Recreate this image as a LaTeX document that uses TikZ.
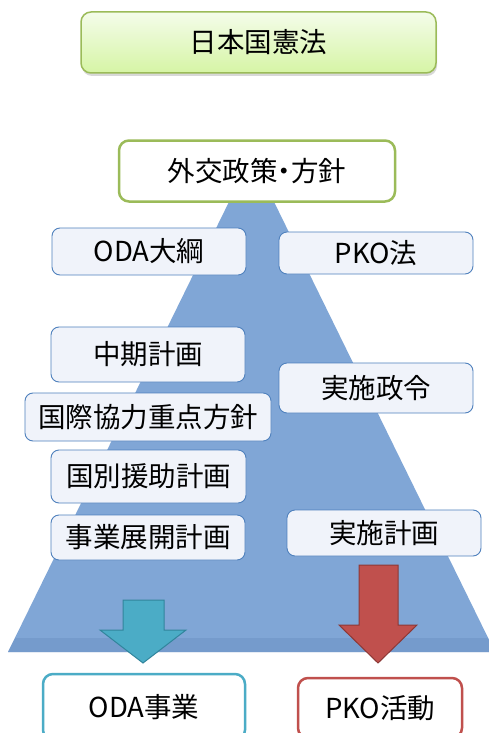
\documentclass[tikz,border=0pt]{standalone}
\usepackage{fontspec}
\setmainfont{Noto Sans CJK JP}
\usetikzlibrary{shadows}
\definecolor{tri}{RGB}{128,166,214}
\definecolor{tridark}{RGB}{108,146,196}
\definecolor{gborder}{RGB}{155,187,89}
\definecolor{gtop}{RGB}{244,252,234}
\definecolor{gbot}{RGB}{214,245,165}
\definecolor{bborder}{RGB}{79,129,189}
\definecolor{bfill}{RGB}{240,243,250}
\definecolor{teal}{RGB}{75,172,198}
\definecolor{tealdark}{RGB}{49,133,156}
\definecolor{redf}{RGB}{192,80,77}
\definecolor{reddark}{RGB}{140,56,54}
\tikzset{
  base/.style={rounded corners=8pt, inner sep=0pt, align=center, font=\fontsize{27.5}{32}\selectfont},
  topbox/.style={base, draw=gborder, line width=1.5pt, top color=gtop, bottom color=gbot, rounded corners=10pt,
     drop shadow={opacity=0.3, shadow xshift=1pt, shadow yshift=-3pt}},
  policybox/.style={base, draw=gborder, line width=2.5pt, fill=white, rounded corners=10pt},
  innerbox/.style={base, draw=bborder, line width=0.9pt, fill=bfill},
  odabox/.style={base, draw=teal, line width=2.5pt, fill=white, rounded corners=10pt},
  pkobox/.style={base, draw=redf, line width=2.5pt, fill=white, rounded corners=10pt},
}
\begin{document}
\begin{tikzpicture}[x=1pt,y=-1pt]
\clip (0,0) rectangle (489,733);
\fill[white] (0,0) rectangle (489,733);
% pyramid
\fill[tri] (251.5,156) -- (495,652) -- (8,652) -- cycle;
\fill[tridark,opacity=0.5] (15,638) -- (488,638) -- (495,652) -- (8,652) -- cycle;
% boxes
\node[topbox, minimum width=355pt, minimum height=61pt] (ken) at (258.5,42.5) {日本国憲法};
\node[policybox, minimum width=276pt, minimum height=61pt] (gaiko) at (257,171) {外交政策\kern-0.25em・\kern-0.25em方針};
\node[innerbox, minimum width=194pt, minimum height=47pt] (odataiko) at (149,251.5) {ODA大綱};
\node[innerbox, minimum width=194pt, minimum height=42pt] (pkoho) at (376,253) {PKO法};
\node[innerbox, minimum width=194pt, minimum height=55pt] (chuki) at (148,354.5) {中期計画};
\node[innerbox, minimum width=194pt, minimum height=50pt] (seirei) at (376,388) {実施政令};
\node[innerbox, minimum width=246pt, minimum height=48pt] (juten) at (148,417) {国際協力重点方針};
\node[innerbox, minimum width=195pt, minimum height=53pt] (kunibetsu) at (148.5,476.5) {国別援助計画};
\node[innerbox, minimum width=194pt, minimum height=45pt] (tenkai) at (148,537.5) {事業展開計画};
\node[innerbox, minimum width=194pt, minimum height=46pt] (jisshi) at (384,533) {実施計画};
% block arrows
\filldraw[fill=teal, draw=tealdark, line width=1pt]
  (123,600) -- (164,600) -- (164,630) -- (186,630) -- (143,663) -- (100,630) -- (123,630) -- cycle;
\filldraw[fill=redf, draw=reddark, line width=1pt]
  (359,565) -- (398,565) -- (398,625) -- (417,625) -- (378,663) -- (339,625) -- (359,625) -- cycle;
% result boxes
\node[odabox, minimum width=202pt, minimum height=66pt] (odajigyo) at (144,707) {ODA事業};
\node[pkobox, minimum width=164pt, minimum height=60pt] (pkokatsudo) at (380,708) {PKO活動};
\end{tikzpicture}
\end{document}
